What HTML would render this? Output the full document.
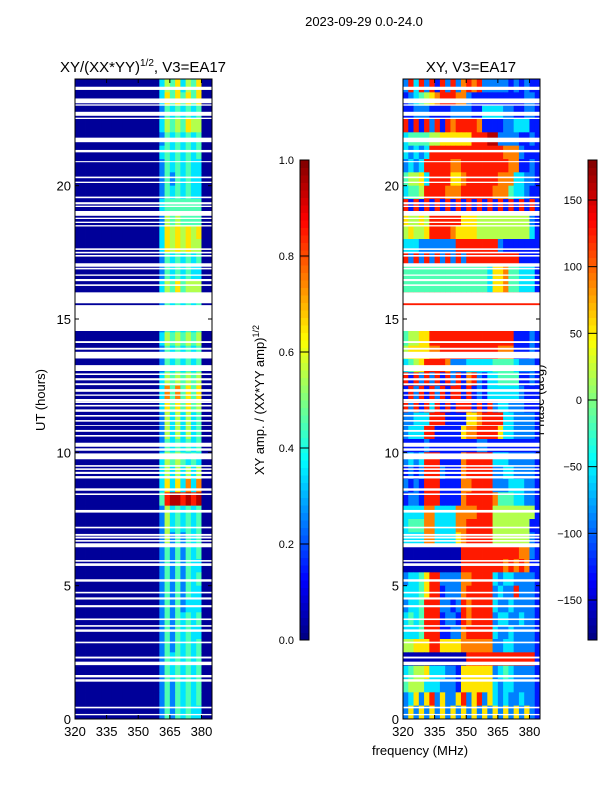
<!DOCTYPE html>
<html><head><meta charset="utf-8"><style>
body{margin:0;background:#fff;width:600px;height:800px;overflow:hidden}
svg{display:block;font-family:"Liberation Sans","DejaVu Sans",sans-serif}
</style></head><body>
<svg id="fig" width="600" height="800" viewBox="0 0 600 800" xmlns="http://www.w3.org/2000/svg">
<text x="364" y="26" font-size="13" text-anchor="middle">2023-09-29 0.0-24.0</text>
<text x="143" y="72" font-size="15" text-anchor="middle">XY/(XX*YY)<tspan font-size="10" dy="-6">1/2</tspan><tspan dy="6">, V3=EA17</tspan></text>
<text x="471" y="72" font-size="15" text-anchor="middle">XY, V3=EA17</text>
<text transform="translate(45,400) rotate(-90)" font-size="13" text-anchor="middle">UT (hours)</text>
<text x="420" y="755" font-size="13" text-anchor="middle">frequency (MHz)</text>
<text transform="translate(264,400) rotate(-90)" font-size="13" text-anchor="middle">XY amp. / (XX*YY amp)<tspan font-size="9" dy="-5">1/2</tspan></text>
<text transform="translate(544,400) rotate(-90)" font-size="13" text-anchor="middle">Phase (deg)</text>
<g id="amp"></g>
<g id="phs"></g>
<g id="axes"></g>
</svg>
<script>
const freqMin = 320, freqMax = 385, binMHz = 2.5;
const tMin = 0, tMax = 24, rowHours = 0.5;
const xTicks = [320, 335, 350, 365, 380];
const yTicks = [0, 5, 10, 15, 20];
const ampTicks = [0.0, 0.2, 0.4, 0.6, 0.8, 1.0];
const phaseTicks = [-150, -100, -50, 0, 50, 100, 150];
// rows top (23.5-24h) to bottom (0-0.5h); 26 freq bins of 2.5 MHz; digit d -> (d+0.5)/10
const ampRows = [
"00000000000000003546354600","00000000000000003646464600","00000000000000002434343400","00000000000000003545465500",
"00000000000000002434343400","00000000000000003434343400","00000000000000002434343300","00000000000000002424343300",
"00000000000000002434343300","00000000000000003444444400","00000000000000002545444400","00000000000000003656565600",
"00000000000000003656565500","00000000000000002434343400","00000000000000002434343300","00000000000000003546455500",
"00000000000000002434343400","00000000000000002434343400","00000000000000002434343400","00000000000000003545454500",
"00000000000000002434343400","00000000000000002434343400","00000000000000003545454500","00000000000000003747464600",
"00000000000000003646464500","00000000000000002535353400","00000000000000002535353400","00000000000000002434343400",
"00000000000000003545434300","00000000000000003535353500","00000000000000003636373700","00000000000000004899898900",
"00000000000000002534343400","00000000000000002534343400","00000000000000002524243400","00000000000000002424243400",
"00000000000000002424243300","00000000000000002424243400","00000000000000002424243300","00000000000000002424233300",
"00000000000000002424343400","00000000000000002424343300","00000000000000002424343400","00000000000000002434343400",
"00000000000000002434343400","00000000000000002424343400","00000000000000002424343400","00000000000000002424343300"];
// phase digit d -> -180 + (d+0.5)*36 deg
const phaseRows = [
"28382818282787822222121211","12345678887721111111111221","11222111122221133332211221","81818281878888711112233311",
"34444556666668889922221121","32323888888888888887772111","23238888877888888888771121","45563888866788888877733221",
"34458888777888888777433211","81818181818181818181818181","65565888888666555555555521","56556888876666555555555531",
"33322222228888888821111111","82828282828288888888881111","44444444444444443667443331","44444444444444443667443331",
"88888888888888888888888888","44444444444444444444444444","45566888888888888888811121","45566888888888888888811121",
"56666778888888888877711121","34568888722233333444432221","81828281828178213344441121","18281828188181213333332111",
"82818381818881818233222111","22333888111166788883322221","23338811111677888863322221","11112111111111221111111111",
"23238881111788888333222221","12128882111788888223322221","21218881111778888222333221","12218881111788888744433221",
"33337733337777888555555551","34447733337788888555555511","33337733336788888555555521","00000000000888888888887721",
"00000000000888888887878711","23346882222778888323322221","33346881222788888232282221","23348882212878888322322221",
"34348881221878888233223221","33348881122788888322322221","55666886666777777223322221","00000000000088888888888881",
"34556333221666666234322221","45553332221666666323322221","23626826226826826323223221","26262626262626262626262621"];
// flagged (blank) UT intervals in hours
const gapStart = [23.59,23.09,23.0,22.62,22.5,21.63,21.25,20.88,20.28,20.10,19.53,19.30,19.20,18.87,18.75,18.60,18.47,17.59,17.46,17.34,16.96,16.86,16.62,16.42,16.24,15.59,14.55,14.10,13.85,13.52,13.05,12.90,12.70,12.52,12.27,12.12,11.9,11.85,11.72,11.52,11.34,11.15,10.99,10.77,10.59,10.21,10.06,9.74,9.46,9.34,9.19,9.02,8.56,8.40,7.74,7.15,6.87,6.77,6.65,6.44,5.90,5.74,5.15,4.71,4.48,4.19,3.71,3.46,3.27,2.84,2.27,2.02,1.56,1.40,0.40,0.14];
const gapEnd   = [23.71,23.27,23.05,22.77,22.55,21.80,21.34,20.92,20.34,20.15,19.59,19.38,19.25,19.05,18.80,18.65,18.52,17.65,17.52,17.40,17.09,16.92,16.67,16.50,16.30,16.0,15.52,14.17,13.92,13.77,13.27,12.96,12.78,12.59,12.37,12.17,12.0,11.90,11.78,11.61,11.40,11.21,11.02,10.84,10.65,10.36,10.15,9.96,9.52,9.40,9.27,9.11,8.65,8.46,7.84,7.21,6.94,6.84,6.71,6.59,5.96,5.84,5.24,4.77,4.56,4.27,3.77,3.52,3.36,2.90,2.34,2.15,1.65,1.49,0.46,0.19];

const NS = "http://www.w3.org/2000/svg";
function jet(v){v=Math.max(0,Math.min(1,v));
 const r=Math.max(0,Math.min(1,Math.min(4*v-1.5,-4*v+4.5)));
 const g=Math.max(0,Math.min(1,Math.min(4*v-0.5,-4*v+3.5)));
 const b=Math.max(0,Math.min(1,Math.min(4*v+0.5,-4*v+2.5)));
 return `rgb(${Math.round(r*255)},${Math.round(g*255)},${Math.round(b*255)})`;}
function el(tag,attrs,parent){const e=document.createElementNS(NS,tag);for(const k in attrs)e.setAttribute(k,attrs[k]);parent.appendChild(e);return e;}
const panels=[{x0:75,x1:212,id:"amp",rows:ampRows,val:d=>d===0?0.025:(d+0.5)/10,name:"amp"},
              {x0:403,x1:540,id:"phs",rows:phaseRows,val:d=>(d+0.5)/10,name:"phase"}];
const y0=719,y1=79;
const yS=t=>y0+(t-tMin)/(tMax-tMin)*(y1-y0);
panels.forEach(p=>{
 const xS=f=>p.x0+(f-freqMin)/(freqMax-freqMin)*(p.x1-p.x0);
 const g=document.getElementById(p.id);
 p.rows.forEach((row,ri)=>{
  const tTop=tMax-ri*rowHours, tBot=tTop-rowHours;
  for(let c=0;c<row.length;c++){
   const fa=freqMin+c*binMHz, fb=Math.min(freqMax,fa+binMHz);
   const r=el("rect",{x:xS(fa),y:yS(tTop),width:xS(fb)-xS(fa)+0.4,height:yS(tBot)-yS(tTop)+0.4,fill:jet(p.val(+row[c]))},g);
   
   
  }
 });
 gapStart.forEach((s,i)=>{
  const r=el("rect",{x:p.x0,y:yS(gapEnd[i]),width:p.x1-p.x0,height:yS(s)-yS(gapEnd[i]),fill:"#fff"},g);
  
  
 });
 const ax=document.getElementById("axes");
 const fr=el("rect",{x:p.x0,y:y1,width:p.x1-p.x0,height:y0-y1,fill:"none",stroke:"#000","stroke-width":1},ax);
 
 
 xTicks.forEach(f=>{const x=xS(f);
  el("line",{x1:x,x2:x,y1:y0,y2:y0-4,stroke:"#000"},ax);el("line",{x1:x,x2:x,y1:y1,y2:y1+4,stroke:"#000"},ax);
  const t=el("text",{x:x,y:y0+17,"font-size":13,"text-anchor":"middle"},ax);t.textContent=f;
  
  
 });
 yTicks.forEach(v=>{const y=yS(v);
  el("line",{x1:p.x0,x2:p.x0+4,y1:y,y2:y,stroke:"#000"},ax);el("line",{x1:p.x1,x2:p.x1-4,y1:y,y2:y,stroke:"#000"},ax);
  const t=el("text",{x:p.x0-4,y:y+5,"font-size":13,"text-anchor":"end"},ax);t.textContent=v;
  
  
 });
});
// colorbars
const cbs=[{x:300,lo:0,hi:1,ticks:ampTicks,fmt:v=>v.toFixed(1),name:"amp-colorbar"},
           {x:588,lo:-180,hi:180,ticks:phaseTicks,fmt:v=>v<0?"\u2212"+(-v):""+v,name:"phase-colorbar"}];
const cTop=160,cBot=640;
cbs.forEach(cb=>{
 const g=el("g",{},document.getElementById("axes"));
 
 
 const n=64;
 for(let i=0;i<n;i++){const y=cBot-(i+1)*(cBot-cTop)/n;
  el("rect",{x:cb.x,y:y,width:9,height:(cBot-cTop)/n+0.5,fill:jet((i+0.5)/n)},g);}
 el("rect",{x:cb.x,y:cTop,width:9,height:cBot-cTop,fill:"none",stroke:"#000"},g);
 cb.ticks.forEach(v=>{const y=cBot-(v-cb.lo)/(cb.hi-cb.lo)*(cBot-cTop);
  el("line",{x1:cb.x,x2:cb.x+9,y1:y,y2:y,stroke:"#000"},g);
  const t=el("text",{x:cb.x-6,y:y+4,"font-size":11,"text-anchor":"end"},g);t.textContent=cb.fmt(v);
  
  
 });
});
</script>
</body></html>
